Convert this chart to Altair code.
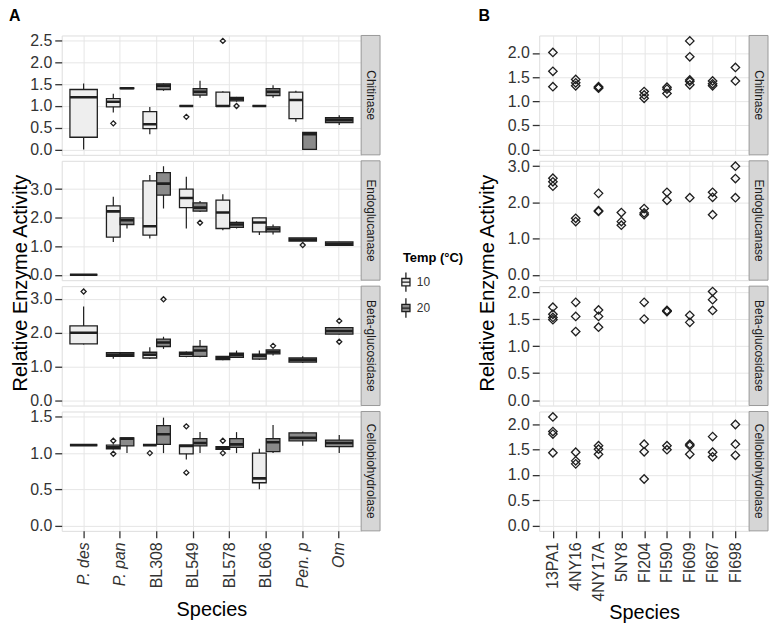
import altair as alt
import pandas as pd

# ---------------- data ----------------
A_SPECIES = ["P. des", "P. pan", "BL308", "BL549", "BL578", "BL606", "Pen. p", "Om"]
ITALIC_SPECIES = ["P. des", "P. pan", "Pen. p", "Om"]
B_STRAINS = ["13PA1", "4NY16", "4NY17A", "5NY8", "FI204", "FI590", "FI609", "FI687", "FI698"]
ENZYMES = ["Chitinase", "Endoglucanase", "Beta-glucosidase", "Cellobiohydrolase"]
TEMPS = ["10", "20"]

# box statistics: species, temp, lower whisker, q1, median, q3, upper whisker
CHIT_BOX = [
    ("P. des", "10", 0.00, 0.28, 1.20, 1.38, 1.52),
    ("P. pan", "10", 0.85, 0.98, 1.10, 1.17, 1.28),
    ("P. pan", "20", 1.40, 1.40, 1.41, 1.42, 1.42),
    ("BL308", "10", 0.35, 0.48, 0.58, 0.87, 0.98),
    ("BL308", "20", 1.35, 1.38, 1.47, 1.51, 1.52),
    ("BL549", "10", 1.00, 1.00, 1.00, 1.00, 1.00),
    ("BL549", "20", 1.19, 1.25, 1.33, 1.40, 1.58),
    ("BL578", "10", 0.98, 0.99, 1.00, 1.32, 1.34),
    ("BL578", "20", 1.10, 1.12, 1.16, 1.20, 1.21),
    ("BL606", "10", 1.00, 1.00, 1.00, 1.00, 1.00),
    ("BL606", "20", 1.19, 1.24, 1.33, 1.40, 1.48),
    ("Pen. p", "10", 0.64, 0.71, 1.14, 1.32, 1.35),
    ("Pen. p", "20", 0.00, 0.00, 0.35, 0.39, 0.39),
    ("Om", "20", 0.56, 0.62, 0.68, 0.73, 0.79),
]
CHIT_OUT = [("P. pan", "10", 0.60), ("BL549", "10", 0.75), ("BL578", "10", 2.50), ("BL578", "20", 1.00)]

ENDO_BOX = [
    ("P. des", "10", 0.00, 0.00, 0.00, 0.00, 0.00),
    ("P. pan", "10", 1.15, 1.32, 2.22, 2.41, 2.73),
    ("P. pan", "20", 1.62, 1.76, 1.91, 1.99, 1.99),
    ("BL308", "10", 1.27, 1.39, 1.70, 3.29, 3.49),
    ("BL308", "20", 2.32, 2.79, 3.19, 3.58, 3.80),
    ("BL549", "10", 1.62, 2.35, 2.69, 3.00, 3.43),
    ("BL549", "20", 2.20, 2.23, 2.35, 2.52, 2.58),
    ("BL578", "10", 1.56, 1.62, 2.18, 2.61, 2.82),
    ("BL578", "20", 1.62, 1.66, 1.76, 1.83, 1.87),
    ("BL606", "10", 1.39, 1.50, 1.83, 1.99, 2.00),
    ("BL606", "20", 1.41, 1.50, 1.60, 1.68, 1.76),
    ("Pen. p", "20", 1.18, 1.18, 1.23, 1.29, 1.29),
    ("Om", "20", 1.02, 1.03, 1.08, 1.15, 1.16),
]
ENDO_OUT = [("BL549", "20", 1.82), ("Pen. p", "20", 1.04)]

BETA_BOX = [
    ("P. des", "10", 1.65, 1.67, 2.00, 2.20, 2.78),
    ("P. pan", "10", 1.23, 1.30, 1.35, 1.41, 1.42),
    ("P. pan", "20", 1.28, 1.30, 1.35, 1.41, 1.42),
    ("BL308", "10", 1.22, 1.25, 1.35, 1.42, 1.57),
    ("BL308", "20", 1.52, 1.59, 1.71, 1.81, 1.88),
    ("BL549", "10", 1.27, 1.30, 1.37, 1.42, 1.44),
    ("BL549", "20", 1.27, 1.30, 1.47, 1.59, 1.78),
    ("BL578", "10", 1.18, 1.20, 1.24, 1.30, 1.30),
    ("BL578", "20", 1.27, 1.27, 1.34, 1.39, 1.47),
    ("BL606", "10", 1.20, 1.22, 1.30, 1.36, 1.47),
    ("BL606", "20", 1.32, 1.37, 1.43, 1.49, 1.49),
    ("Pen. p", "20", 1.10, 1.13, 1.19, 1.25, 1.30),
    ("Om", "20", 1.95, 1.96, 2.05, 2.15, 2.17),
]
BETA_OUT = [("P. des", "10", 3.22), ("BL308", "20", 2.99), ("BL606", "20", 1.61),
            ("Om", "20", 2.35), ("Om", "20", 1.73)]

CELLO_BOX = [
    ("P. des", "10", 1.11, 1.11, 1.11, 1.11, 1.11),
    ("P. pan", "10", 1.05, 1.06, 1.08, 1.11, 1.12),
    ("P. pan", "20", 1.00, 1.10, 1.20, 1.21, 1.21),
    ("BL308", "10", 1.11, 1.11, 1.11, 1.11, 1.11),
    ("BL308", "20", 1.00, 1.12, 1.26, 1.38, 1.49),
    ("BL549", "10", 0.91, 0.99, 1.10, 1.11, 1.11),
    ("BL549", "20", 1.00, 1.10, 1.14, 1.20, 1.29),
    ("BL578", "10", 1.05, 1.05, 1.07, 1.09, 1.09),
    ("BL578", "20", 1.00, 1.08, 1.12, 1.20, 1.29),
    ("BL606", "10", 0.50, 0.59, 0.65, 1.00, 1.06),
    ("BL606", "20", 1.00, 1.02, 1.15, 1.20, 1.39),
    ("Pen. p", "20", 1.10, 1.17, 1.21, 1.28, 1.30),
    ("Om", "20", 1.00, 1.09, 1.14, 1.18, 1.25),
]
CELLO_OUT = [("P. pan", "10", 1.17), ("P. pan", "10", 0.99), ("BL308", "10", 1.00),
             ("BL549", "10", 1.37), ("BL549", "10", 0.73), ("BL578", "10", 1.17), ("BL578", "10", 1.00)]

# panel B points: strain, value
B_CHIT = [("13PA1", 2.01), ("13PA1", 1.62), ("13PA1", 1.30),
          ("4NY16", 1.45), ("4NY16", 1.38), ("4NY16", 1.32),
          ("4NY17A", 1.30), ("4NY17A", 1.28), ("4NY17A", 1.27),
          ("FI204", 1.20), ("FI204", 1.13), ("FI204", 1.06),
          ("FI590", 1.29), ("FI590", 1.25), ("FI590", 1.16),
          ("FI609", 2.25), ("FI609", 1.92), ("FI609", 1.44), ("FI609", 1.41), ("FI609", 1.34),
          ("FI687", 1.42), ("FI687", 1.36), ("FI687", 1.32),
          ("FI698", 1.70), ("FI698", 1.42)]
B_ENDO = [("13PA1", 2.67), ("13PA1", 2.57), ("13PA1", 2.45),
          ("4NY16", 1.56), ("4NY16", 1.47),
          ("4NY17A", 2.25), ("4NY17A", 1.77), ("4NY17A", 1.75),
          ("5NY8", 1.72), ("5NY8", 1.47), ("5NY8", 1.37),
          ("FI204", 1.83), ("FI204", 1.71), ("FI204", 1.66),
          ("FI590", 2.28), ("FI590", 2.06),
          ("FI609", 2.13),
          ("FI687", 2.28), ("FI687", 2.14), ("FI687", 1.66),
          ("FI698", 3.00), ("FI698", 2.66), ("FI698", 2.13)]
B_BETA = [("13PA1", 1.72), ("13PA1", 1.59), ("13PA1", 1.53), ("13PA1", 1.49),
          ("4NY16", 1.81), ("4NY16", 1.55), ("4NY16", 1.27),
          ("4NY17A", 1.67), ("4NY17A", 1.55), ("4NY17A", 1.35),
          ("FI204", 1.81), ("FI204", 1.50),
          ("FI590", 1.66), ("FI590", 1.64), ("FI590", 1.65),
          ("FI609", 1.57), ("FI609", 1.44),
          ("FI687", 2.01), ("FI687", 1.86), ("FI687", 1.66)]
B_CELLO = [("13PA1", 2.15), ("13PA1", 1.86), ("13PA1", 1.81), ("13PA1", 1.44),
           ("4NY16", 1.45), ("4NY16", 1.28), ("4NY16", 1.22),
           ("4NY17A", 1.58), ("4NY17A", 1.51), ("4NY17A", 1.41),
           ("FI204", 1.61), ("FI204", 1.46), ("FI204", 0.92),
           ("FI590", 1.58), ("FI590", 1.50),
           ("FI609", 1.61), ("FI609", 1.58), ("FI609", 1.41),
           ("FI687", 1.76), ("FI687", 1.45), ("FI687", 1.36),
           ("FI698", 2.00), ("FI698", 1.61), ("FI698", 1.39)]

A_ROWS = [
    (ENZYMES[0], CHIT_BOX, CHIT_OUT, [-0.125, 2.625], [0.0, 0.5, 1.0, 1.5, 2.0, 2.5]),
    (ENZYMES[1], ENDO_BOX, ENDO_OUT, [-0.19, 3.99], [0.0, 1.0, 2.0, 3.0]),
    (ENZYMES[2], BETA_BOX, BETA_OUT, [-0.16, 3.38], [0.0, 1.0, 2.0, 3.0]),
    (ENZYMES[3], CELLO_BOX, CELLO_OUT, [-0.075, 1.575], [0.0, 0.5, 1.0, 1.5]),
]
B_ROWS = [
    (ENZYMES[0], B_CHIT, [-0.1125, 2.3625], [0.0, 0.5, 1.0, 1.5, 2.0]),
    (ENZYMES[1], B_ENDO, [-0.15, 3.15], [0.0, 1.0, 2.0, 3.0]),
    (ENZYMES[2], B_BETA, [-0.10, 2.11], [0.0, 0.5, 1.0, 1.5, 2.0]),
    (ENZYMES[3], B_CELLO, [-0.1075, 2.2575], [0.0, 0.5, 1.0, 1.5, 2.0]),
]

# ---------------- style ----------------
FONT = "Liberation Sans"
W_A, W_B, H = 301, 211, 120
ROW_GAP = 6
STRIP_W = 19
LIGHT, DARK = "#eeeeee", "#8a8a8a"
INK = "#1f1f1f"
GRID = "#e6e6e6"
TICK_FS = 16
TITLE_FS = 20
BOX_PATH = "M0,-0.95L0,-0.36M-0.4,-0.36L0.4,-0.36L0.4,0.36L-0.4,0.36ZM-0.4,0L0.4,0M0,0.36L0,0.95"

LEGEND = alt.Legend(
    title="Temp (°C)", orient="none", legendX=343, legendY=218,
    symbolType=BOX_PATH, symbolSize=420, symbolStrokeColor=INK, symbolStrokeWidth=1.3,
    symbolOffset=-8, labelOffset=0,
    titleFont=FONT, titleFontSize=13, titleFontWeight="bold", titleColor="#000",
    labelFont=FONT, labelFontSize=12, labelColor="#333", rowPadding=0, titlePadding=6,
)
FILL_SCALE = alt.Scale(domain=TEMPS, range=[LIGHT, DARK])
OFF_SCALE = alt.Scale(domain=TEMPS, paddingInner=0, paddingOuter=0)


def y_axis(values):
    return alt.Axis(values=values, format=".1f", title=None, grid=True, domain=False,
                    tickSize=7, tickWidth=1.3, tickColor="#333", labelPadding=3,
                    labelFontSize=TICK_FS, labelColor="#333", labelFont=FONT, gridColor=GRID)


def x_axis(bottom, italic, title_pad):
    if not bottom:
        return alt.Axis(labels=False, ticks=False, domain=False, title=None, grid=True, gridColor=GRID)
    kw = dict(title="Species", labelAngle=270, labelFontSize=TICK_FS, labelFont=FONT, labelColor="#333",
              tickSize=7, tickWidth=1.3, tickColor="#333", labelPadding=4, domain=False, grid=True,
              gridColor=GRID, titleFont=FONT, titleFontSize=TITLE_FS, titleFontWeight="normal",
              titleColor="#000", titlePadding=title_pad)
    if italic:
        lst = ",".join("'%s'" % s for s in ITALIC_SPECIES)
        kw["labelFontStyle"] = {"condition": {"test": "indexof([%s], datum.value) >= 0" % lst,
                                              "value": "italic"}, "value": "normal"}
    return alt.Axis(**kw)


def strip_layers(label, width):
    sd = pd.DataFrame({"label": [label]})
    rect = alt.Chart(sd).mark_rect(fill="#d6d6d6", stroke="#999999", strokeWidth=1).encode(
        x=alt.value(width), x2=alt.value(width + STRIP_W), y=alt.value(0), y2=alt.value(H))
    txt = alt.Chart(sd).mark_text(angle=90, font=FONT, fontSize=12, color="#1a1a1a").encode(
        x=alt.value(width + STRIP_W / 2), y=alt.value(H / 2), text="label:N")
    return [rect, txt]


def text_layer(s, x, y, **kw):
    return alt.Chart(pd.DataFrame({"t": [s]})).mark_text(font=FONT, **kw).encode(
        x=alt.value(x), y=alt.value(y), text="t:N")


def a_row(i, enz, box, outs, ydom, yticks):
    bottom = i == 3
    df = pd.DataFrame(box, columns=["species", "temp", "lo", "q1", "med", "q3", "hi"])
    cnt = df.groupby("species")["temp"].transform("count")
    singles = set(df.loc[cnt == 1, "species"])
    od = pd.DataFrame(outs, columns=["species", "temp", "v"])
    yscale = alt.Scale(domain=ydom, nice=False, zero=False)
    X = alt.X("species:N", scale=alt.Scale(domain=A_SPECIES, paddingInner=0.25, paddingOuter=0.225),
              axis=x_axis(bottom, True, 12))
    OFF = alt.XOffset("temp:N", scale=OFF_SCALE)
    FILL = alt.Fill("temp:N", scale=FILL_SCALE, legend=LEGEND)

    def Y(f):
        return alt.Y(f"{f}:Q", scale=yscale, axis=y_axis(yticks))

    layers = []
    for part, dodge in ((df[cnt == 2], True), (df[cnt == 1], False)):
        if part.empty:
            continue
        extra = {"xOffset": OFF} if dodge else {}
        base = alt.Chart(part)
        layers.append(base.mark_rule(color=INK, strokeWidth=1.2).encode(
            x=X, y=Y("lo"), y2="hi", **extra))
        layers.append(base.mark_bar(stroke=INK, strokeWidth=1.3).encode(
            x=X, y=Y("q1"), y2="q3", fill=FILL, **extra))
        layers.append(base.mark_bar(fillOpacity=0, stroke=INK, strokeWidth=2.6, strokeJoin="bevel").encode(
            x=X, y=Y("med"), y2="med", **extra))
    for part, dodge in ((od[~od["species"].isin(singles)], True), (od[od["species"].isin(singles)], False)):
        if part.empty:
            continue
        extra = {"xOffset": OFF} if dodge else {}
        layers.append(alt.Chart(part).mark_point(shape="diamond", filled=False, size=26, color=INK,
                                                 strokeWidth=1.3, opacity=1).encode(
            x=X, y=Y("v"), **extra))
    layers += strip_layers(enz, W_A)
    if i == 0:
        layers.append(text_layer("A", -53, -28, fontSize=16, fontWeight="bold", align="left",
                                 baseline="top", color="#000"))
    if i == 1:
        layers.append(text_layer("Relative Enzyme Activity", -41, H + ROW_GAP / 2, fontSize=TITLE_FS,
                                 angle=270, align="center", baseline="middle", color="#000"))
    return alt.layer(*layers).properties(width=W_A, height=H)


def b_row(i, enz, pts, ydom, yticks):
    bottom = i == 3
    df = pd.DataFrame(pts, columns=["strain", "v"])
    X = alt.X("strain:N", scale=alt.Scale(type="point", domain=B_STRAINS, padding=0.6),
              axis=x_axis(bottom, False, 1))
    pts_chart = alt.Chart(df).mark_point(shape="diamond", filled=False, size=72, color=INK,
                                         strokeWidth=1.3, opacity=1).encode(
        x=X, y=alt.Y("v:Q", scale=alt.Scale(domain=ydom, nice=False, zero=False), axis=y_axis(yticks)))
    layers = [pts_chart] + strip_layers(enz, W_B)
    if i == 0:
        layers.append(text_layer("B", -61, -28, fontSize=16, fontWeight="bold", align="left",
                                 baseline="top", color="#000"))
    if i == 1:
        layers.append(text_layer("Relative Enzyme Activity", -51, H + ROW_GAP / 2, fontSize=TITLE_FS,
                                 angle=270, align="center", baseline="middle", color="#000"))
    return alt.layer(*layers).properties(width=W_B, height=H)


panel_a = alt.vconcat(*[a_row(i, *r) for i, r in enumerate(A_ROWS)], spacing=ROW_GAP, bounds="flush")
panel_b = alt.vconcat(*[b_row(i, *r) for i, r in enumerate(B_ROWS)], spacing=ROW_GAP, bounds="flush")

chart = alt.hconcat(panel_a, panel_b, spacing=97).properties(
    padding={"left": 0, "top": -3, "right": 0, "bottom": -2}
).configure_view(stroke="#999999", strokeWidth=1).configure(background="white")

chart.save("out.html", embed_options={"renderer": "svg", "actions": False})
